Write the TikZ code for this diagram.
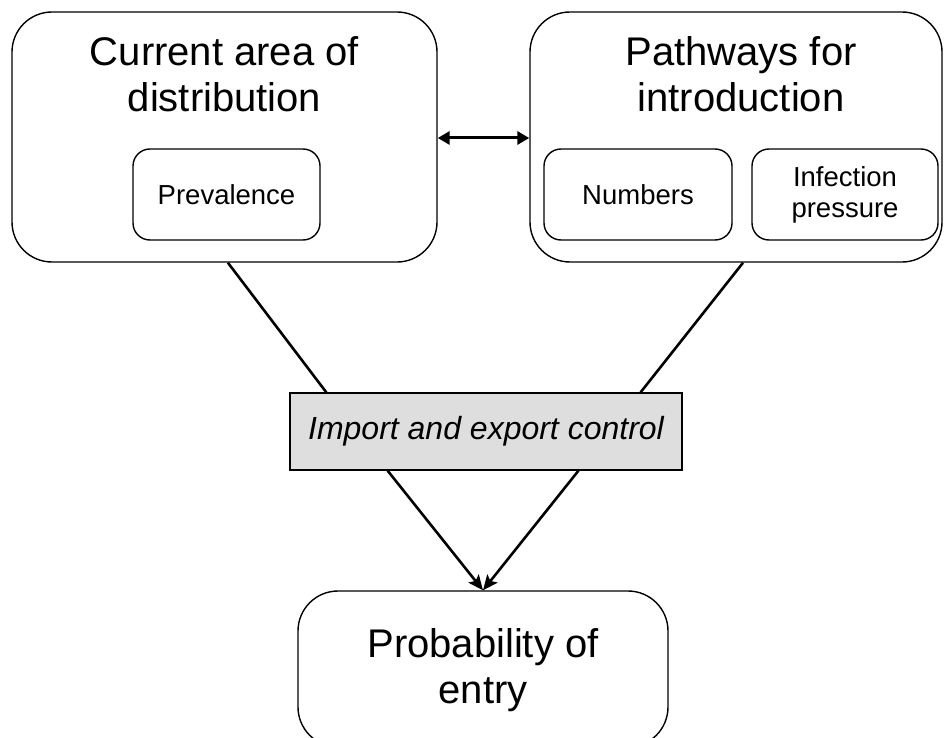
\documentclass[tikz,border=0pt]{standalone}
\usepackage{fontspec}
\setmainfont{Liberation Sans}
\usetikzlibrary{arrows.meta,calc}
\begin{document}
\begin{tikzpicture}[x=1pt,y=-1pt,
  outerbox/.style={draw,line width=1.4pt,rounded corners=40pt,minimum width=#1,minimum height=250pt,inner sep=0pt},
  innerbox/.style={draw,line width=1.4pt,rounded corners=17pt,minimum width=#1,minimum height=91pt,inner sep=0pt,align=center,
    font=\fontsize{27.5}{31}\selectfont},
  title/.style={inner sep=0pt,align=center,font=\fontsize{40}{46}\selectfont},
  ctrlbox/.style={draw,line width=1.4pt,fill=black!13,minimum width=392pt,minimum height=77pt,inner sep=0pt,
    font=\fontsize{32}{36}\selectfont\itshape},
  link/.style={line width=2.6pt},
  flow/.style={line width=2.6pt,-{Stealth[length=15pt,width=13pt,inset=3pt]}},
  both/.style={line width=3pt,{Triangle[length=12pt,width=13pt]}-{Triangle[length=12pt,width=13pt]}}
]
\useasboundingbox (0,0) rectangle (944,738);

% upper left: distribution
\node[outerbox=425pt] (dist) at (224.5,137) {};
\node[title] (distT) at (224.5,74) {Current area of\\distribution};
\node[innerbox=187pt] (prev) at (226.5,194.5) {Prevalence};

% upper right: pathways
\node[outerbox=412pt] (path) at (736,137) {};
\node[title] (pathT) at (741,74) {Pathways for\\introduction};
\node[innerbox=188pt] (num) at (638,194.5) {Numbers};
\node[innerbox=186pt] (inf) at (845,194.5) {Infection\\pressure};

% middle: control
\node[ctrlbox] (ctrl) at (486,431.5) {Import and export control};

% bottom: result
\node[draw,line width=1.4pt,rounded corners=40pt,minimum width=370pt,minimum height=156pt,inner sep=0pt] (entry) at (483,669) {};
\node[title] (entryT) at (483,670) {Probability of\\entry};

% connectors
\draw[both] (dist.east |- 0,138) -- (path.west |- 0,138);
\draw[link] ($(dist.south west)!0.508!(dist.south east)$) -- ($(ctrl.north west)!0.094!(ctrl.north east)$);
\draw[link] ($(path.south west)!0.517!(path.south east)$) -- ($(ctrl.north west)!0.893!(ctrl.north east)$);
\draw[flow] ($(ctrl.south west)!0.25!(ctrl.south east)$) -- (entry.north);
\draw[flow] ($(ctrl.south west)!0.735!(ctrl.south east)$) -- (entry.north);
\end{tikzpicture}
\end{document}
